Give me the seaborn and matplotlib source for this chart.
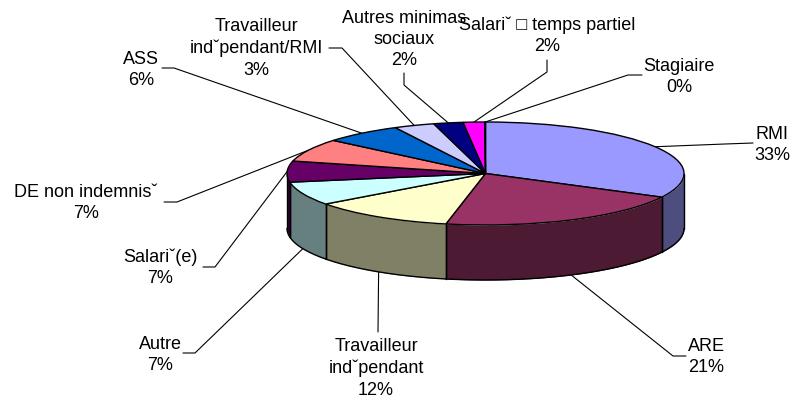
import numpy as np
import matplotlib
matplotlib.use("Agg")
import matplotlib.pyplot as plt
import seaborn as sns

# ---- data ----
categories = ["RMI", "ARE", "Travailleur\nind\u02c7pendant", "Autre", "Salari\u02c7(e)",
              "DE non indemnis\u02c7", "ASS", "Travailleur\nind\u02c7pendant/RMI",
              "Autres minimas\nsociaux", "Salari\u02c7 \u25a1 temps partiel", "Stagiaire"]
shares = [32.6, 20.6, 11.7, 7.4, 6.6, 7.2, 6.4, 3.3, 2.4, 1.75, 0.05]
colours = ["#9999FF", "#993366", "#FFFFCC", "#CCFFFF", "#660066", "#FF8080",
           "#0066CC", "#CCCCFF", "#000080", "#FF00FF", "#FFFF00"]

# ---- layout (pixels, from top-left) ----
W, H = 793, 401
CX, CY, RX, RY, DEPTH_PX = 485.5, 173.5, 198.5, 51.5, 55
label_xy = [(772, 145), (706, 357), (376, 368.5), (160, 355), (160, 268),
            (86, 203), (141, 70), (256, 48.5), (404, 39.5), (547, 36), (679, 77)]
elbows = [[(725, 144), (753, 143)], [(673, 356), (686, 356)], [(378, 332)],
          [(195, 353), (183, 353)], [(215, 267), (203, 267)], [(177, 202), (164, 202)],
          [(174, 68), (162, 68)], [(342, 48), (329, 48)], [(404, 85), (404, 73)],
          [(547, 72), (547, 60)], [(628, 75), (642, 75)]]

sns.set_theme(style="white")
plt.rcParams["font.family"] = ["Liberation Sans", "DejaVu Sans"]

fig = plt.figure(figsize=(W / 100, H / 100), dpi=100, facecolor="white")
ax = fig.add_axes([0, 0, 1, 1])
palette = sns.color_palette(colours)

ax.pie(shares, colors=palette, startangle=90, counterclock=False, radius=1,
       wedgeprops=dict(edgecolor="black", linewidth=1.0, zorder=3))
ax.set_aspect("auto")
ax.set_xlim(-CX / RX, (W - CX) / RX)
ax.set_ylim(-(H - CY) / RY, CY / RY)
ax.axis("off")

depth = DEPTH_PX / RY
def to_data(p):
    return (p[0] - CX) / RX, (CY - p[1]) / RY

# side wall of the visible front half, slice by slice
fractions = np.array(shares) / np.sum(shares)
ends = np.cumsum(fractions) * 360
starts = ends - fractions * 360
for a0, a1, col in zip(starts, ends, palette):
    lo, hi = max(a0, 90), min(a1, 270)
    if hi <= lo:
        continue
    t = np.radians(np.linspace(lo, hi, 200))
    x, y = np.sin(t), np.cos(t)
    dark = tuple(c * 0.5 for c in col)
    ax.fill_between(x, y - depth, y, color=dark, zorder=1, linewidth=0)
    ax.plot(x, y - depth, color="black", lw=1.0, zorder=2)
    for xe, ye in ((x[0], y[0]), (x[-1], y[-1])):
        ax.plot([xe, xe], [ye, ye - depth], color="black", lw=1.0, zorder=2)

# leader lines and labels
for i, (name, share) in enumerate(zip(categories, shares)):
    mid = np.radians((starts[i] + ends[i]) / 2)
    sx, sy = np.sin(mid), np.cos(mid)
    if 90 < np.degrees(mid) < 262:
        sy -= depth
    pts = [(sx, sy)] + [to_data(p) for p in elbows[i]]
    ax.plot(*zip(*pts), color="black", lw=0.8, zorder=0.5)
    lx, ly = to_data(label_xy[i])
    ax.text(lx, ly, f"{name}\n{round(share):d}%", ha="center", va="center",
            fontsize=13, color="black", linespacing=1.33, zorder=5)

fig.savefig("out.png", dpi=100, facecolor="white")
